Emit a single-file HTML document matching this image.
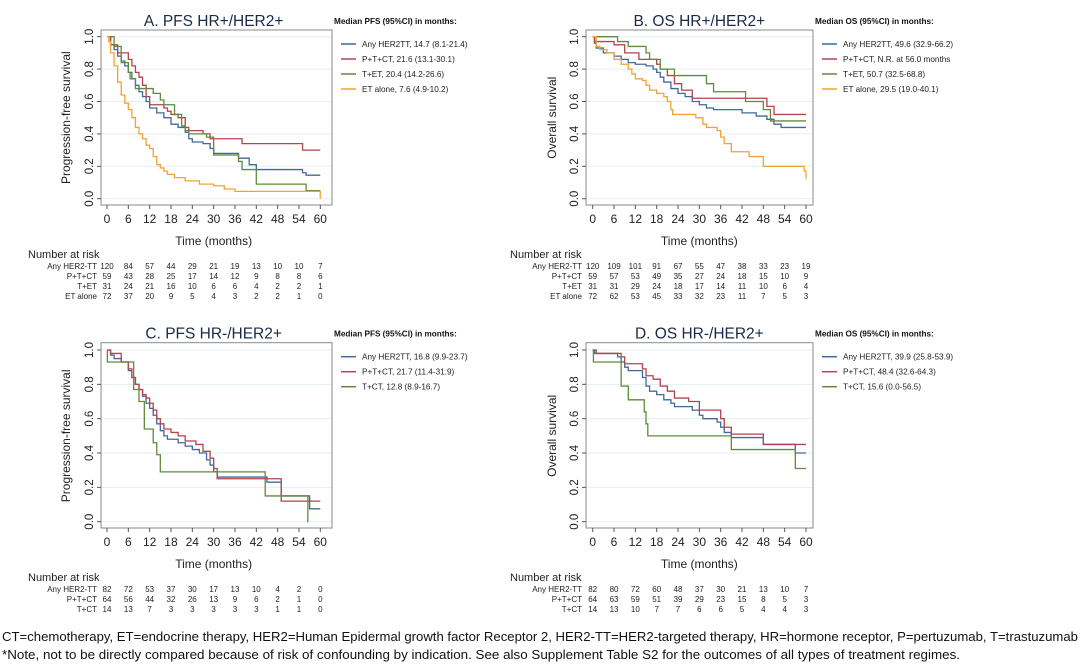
<!DOCTYPE html>
<html><head><meta charset="utf-8"><style>
html,body{margin:0;padding:0;background:#fff;}
svg{display:block;font-family:"Liberation Sans",Arial,sans-serif;}
</style></head><body>
<svg id="s" width="1080" height="666" viewBox="0 0 1080 666" xmlns="http://www.w3.org/2000/svg">
<text x="2" y="641" font-size="13" textLength="1076" lengthAdjust="spacingAndGlyphs" fill="#111">CT=chemotherapy, ET=endocrine therapy, HER2=Human Epidermal growth factor Receptor 2, HER2-TT=HER2-targeted therapy, HR=hormone receptor, P=pertuzumab, T=trastuzumab</text>
<text x="2" y="659" font-size="13" textLength="958" lengthAdjust="spacingAndGlyphs" fill="#111">*Note, not to be directly compared because of risk of confounding by indication. See also Supplement Table S2 for the outcomes of all types of treatment regimes.</text>
</svg>
<script>
var S=document.getElementById('s'),NS='http://www.w3.org/2000/svg';
function el(t,a,txt){var e=document.createElementNS(NS,t);for(var k in a)e.setAttribute(k,a[k]);if(txt!=null)e.textContent=txt;S.appendChild(e);return e;}
var C={b:'#41699a',r:'#b3434d',g:'#5e8b3c',o:'#f2a334'};
function panel(p){
 var x0=p.x0,x1=p.x0+213.3,y1=p.y1,y0=p.y0;
 function X(m){return x0+(x1-x0)*m/60;} function Y(s){return y0-(y0-y1)*s;}
 for(var i=0;i<=5;i++){el('line',{x1:p.fl,x2:p.fr,y1:Y(i*0.2),y2:Y(i*0.2),stroke:'#e6eef3','stroke-width':1});}
 el('rect',{x:p.fl,y:p.ft,width:p.fr-p.fl,height:p.fb-p.ft,fill:'none',stroke:'#8a8a8a','stroke-width':1});
 for(var i=0;i<=5;i++){var yy=Y(i*0.2);el('line',{x1:p.fl-4,x2:p.fl,y1:yy,y2:yy,stroke:'#555'});
  el('text',{x:p.fl-8,y:yy,'font-size':11.5,'text-anchor':'middle',transform:'rotate(-90 '+(p.fl-8)+' '+yy+')',fill:'#222'},(i*0.2).toFixed(1));}
 for(var m=0;m<=60;m+=6){var xx=X(m);el('line',{x1:xx,x2:xx,y1:p.fb,y2:p.fb+4,stroke:'#555'});
  el('text',{x:xx,y:p.fb+18,'font-size':12,'text-anchor':'middle',fill:'#222'},m);}
 var cx=(x0+x1)/2;
 el('text',{x:cx,y:p.ft-4,'font-size':15.5,'text-anchor':'middle',fill:'#1a2a44'},p.title);
 el('text',{x:cx,y:p.fb+40,'font-size':12,'text-anchor':'middle',fill:'#222'},'Time (months)');
 var ly=(Y(0)+Y(1))/2;
 el('text',{x:p.ylx,y:ly,'font-size':12,'text-anchor':'middle',transform:'rotate(-90 '+p.ylx+' '+ly+')',fill:'#222'},p.ylab);
 el('text',{x:p.fr+2,y:p.ft-6,'font-size':8.2,'font-weight':'bold',fill:'#111'},p.lh);
 p.leg.forEach(function(l,i){var yy=p.ft+14+15*i;el('line',{x1:p.fr+9,x2:p.fr+24,y1:yy,y2:yy,stroke:C[l[0]],'stroke-width':1.5});
  el('text',{x:p.fr+30,y:yy+3,'font-size':8.2,fill:'#222'},l[1]);});
 p.curves.forEach(function(c){var d='M'+X(0)+','+Y(1);c.pts.forEach(function(q){d+=' H'+X(q[0])+' V'+Y(q[1]);});d+=' H'+X(c.end);
  el('path',{d:d,fill:'none',stroke:C[c.c],'stroke-width':1.3});});
 el('text',{x:p.nrx,y:p.fb+53,'font-size':11,fill:'#222'},'Number at risk');
 p.risk.forEach(function(r,i){var yy=p.fb+64+10*i;el('text',{x:p.fl-4,y:yy,'font-size':8,'text-anchor':'end',fill:'#222'},r[0]);
  r[1].forEach(function(v,j){el('text',{x:X(j*6),y:yy,'font-size':8,'text-anchor':'middle',fill:'#222'},v);});});
}
panel({x0:107,y1:36.7,y0:198.7,fl:101,fr:332,ft:30,fb:205,ylx:70,nrx:28,title:'A. PFS HR+/HER2+',ylab:'Progression-free survival',lh:'Median PFS (95%CI) in months:',
 leg:[['b','Any HER2TT, 14.7 (8.1-21.4)'],['r','P+T+CT, 21.6 (13.1-30.1)'],['g','T+ET, 20.4 (14.2-26.6)'],['o','ET alone, 7.6 (4.9-10.2)']],
 curves:[
 {c:'b',end:60,pts:[[1,.95],[2,.92],[3,.88],[4,.85],[5,.82],[6,.78],[7,.74],[8,.7],[9,.66],[10,.63],[11,.6],[12,.56],[14,.53],[16,.5],[18,.46],[20,.44],[22,.41],[23,.37],[24,.35],[27,.34],[29,.31],[30,.28],[37,.25],[40,.21],[42,.18],[55,.16],[56,.145]]},
 {c:'r',end:60,pts:[[1,.95],[3,.9],[6,.86],[7,.82],[8,.78],[9,.75],[10,.7],[11,.63],[12,.58],[16,.56],[17,.54],[18,.52],[20,.5],[22,.44],[23,.42],[27,.4],[29,.37],[38,.34],[55,.3]]},
 {c:'g',end:60,pts:[[2,.94],[4,.84],[6,.78],[6.5,.74],[8,.68],[13,.65],[15,.61],[16,.58],[19,.52],[21,.45],[22,.42],[23,.4],[28,.38],[30,.27],[35,.27],[37,.23],[38,.18],[42,.09],[56,.05]]},
 {c:'o',end:60,pts:[[.5,.97],[1,.9],[2,.82],[3,.72],[4,.64],[5,.59],[6,.55],[7,.5],[8,.44],[9,.4],[10,.37],[11,.33],[12,.31],[13,.26],[14,.21],[15,.19],[16,.17],[17,.15],[19,.13],[22,.11],[26,.09],[30,.08],[33,.06],[36,.045],[60,0]]}],
 risk:[['Any HER2-TT',[120,84,57,44,29,21,19,13,10,10,7]],['P+T+CT',[59,43,28,25,17,14,12,9,8,8,6]],['T+ET',[31,24,21,16,10,6,6,4,2,2,1]],['ET alone',[72,37,20,9,5,4,3,2,2,1,0]]]});
panel({x0:592.7,y1:36.7,y0:198.7,fl:586,fr:813,ft:30,fb:205,ylx:556,nrx:510,title:'B. OS HR+/HER2+',ylab:'Overall survival',lh:'Median OS (95%CI) in months:',
 leg:[['b','Any HER2TT, 49.6 (32.9-66.2)'],['r','P+T+CT, N.R. at 56.0 months'],['g','T+ET, 50.7 (32.5-68.8)'],['o','ET alone, 29.5 (19.0-40.1)']],
 curves:[
 {c:'b',end:60,pts:[[.5,.96],[1,.93],[3,.9],[6,.88],[8,.86],[10,.84],[12,.83],[15,.82],[17,.8],[18,.78],[19,.75],[20,.72],[22,.68],[24,.65],[26,.63],[28,.6],[30,.58],[32,.56],[34,.55],[42,.53],[46,.51],[49,.49],[51,.46],[53,.44]]},
 {c:'r',end:60,pts:[[.5,.97],[6,.95],[9,.9],[13,.86],[18,.83],[19,.8],[21,.76],[23,.71],[25,.67],[28,.62],[49,.57],[51,.52]]},
 {c:'g',end:60,pts:[[7,.97],[10,.94],[15,.9],[16,.86],[19,.8],[23,.76],[32,.71],[34,.66],[43,.6],[48,.55],[50,.48]]},
 {c:'o',end:60,pts:[[1,.94],[2,.92],[4,.9],[6,.86],[8,.83],[10,.8],[11,.77],[12,.74],[14,.73],[15,.7],[16,.67],[18,.65],[20,.63],[21,.6],[22,.55],[22.5,.52],[29,.5],[31,.46],[32,.44],[35,.42],[36,.38],[37,.34],[39,.29],[44,.26],[48,.2],[59,.2],[59.5,.17],[60,.12]]}],
 risk:[['Any HER2-TT',[120,109,101,91,67,55,47,38,33,23,19]],['P+T+CT',[59,57,53,49,35,27,24,18,15,10,9]],['T+ET',[31,31,29,24,18,17,14,11,10,6,4]],['ET alone',[72,62,53,45,33,32,23,11,7,5,3]]]});
panel({x0:107,y1:350,y0:521.7,fl:101,fr:332,ft:342.7,fb:528,ylx:70,nrx:28,title:'C. PFS HR-/HER2+',ylab:'Progression-free survival',lh:'Median PFS (95%CI) in months:',
 leg:[['b','Any HER2TT, 16.8 (9.9-23.7)'],['r','P+T+CT, 21.7 (11.4-31.9)'],['g','T+CT, 12.8 (8.9-16.7)']],
 curves:[
 {c:'b',end:60,pts:[[1,.97],[2,.95],[4,.93],[6,.88],[7,.84],[8,.8],[9,.77],[10,.73],[11,.69],[12,.66],[13,.62],[14,.57],[15,.53],[16,.5],[17,.48],[20,.46],[22,.44],[24,.42],[26,.4],[28,.36],[29,.33],[30,.29],[31,.26],[45,.23],[49,.15],[57,.075]]},
 {c:'r',end:60,pts:[[1,.98],[4,.93],[6,.89],[7,.84],[8,.8],[9,.77],[10,.74],[11,.72],[12,.69],[13,.65],[14,.6],[15,.57],[16,.54],[18,.52],[20,.5],[22,.47],[25,.45],[27,.41],[29,.37],[30,.31],[31,.25],[49,.12]]},
 {c:'g',end:56.6,pts:[[.1,.93],[7.5,.77],[9,.7],[10.5,.54],[13,.46],[14,.39],[15,.29],[44.5,.15],[56.5,0]]}],
 risk:[['Any HER2-TT',[82,72,53,37,30,17,13,10,4,2,0]],['P+T+CT',[64,56,44,32,26,13,9,6,2,1,0]],['T+CT',[14,13,7,3,3,3,3,3,1,1,0]]]});
panel({x0:592.7,y1:350,y0:521.7,fl:586,fr:813,ft:342.7,fb:528,ylx:556,nrx:510,title:'D. OS HR-/HER2+',ylab:'Overall survival',lh:'Median OS (95%CI) in months:',
 leg:[['b','Any HER2TT, 39.9 (25.8-53.9)'],['r','P+T+CT, 48.4 (32.6-64.3)'],['g','T+CT, 15.6 (0.0-56.5)']],
 curves:[
 {c:'b',end:60,pts:[[.5,.98],[7,.96],[8,.93],[9,.9],[10,.88],[14,.84],[15,.79],[16,.76],[18,.74],[20,.71],[22,.69],[23,.67],[28,.65],[30,.62],[31,.6],[35,.58],[36,.55],[37,.52],[39,.49],[48,.45],[57,.4]]},
 {c:'r',end:60,pts:[[1,.98],[8,.96],[9,.92],[14,.89],[15,.85],[17,.83],[19,.79],[21,.76],[23,.72],[27,.7],[30,.65],[36,.6],[37,.55],[39,.51],[48,.45]]},
 {c:'g',end:60,pts:[[.2,.93],[8,.79],[10,.71],[14.5,.64],[15,.57],[15.5,.5],[39,.42],[57,.31]]}],
 risk:[['Any HER2-TT',[82,80,72,60,48,37,30,21,13,10,7]],['P+T+CT',[64,63,59,51,39,29,23,15,8,5,3]],['T+CT',[14,13,10,7,7,6,6,5,4,4,3]]]});
</script>
</body></html>
